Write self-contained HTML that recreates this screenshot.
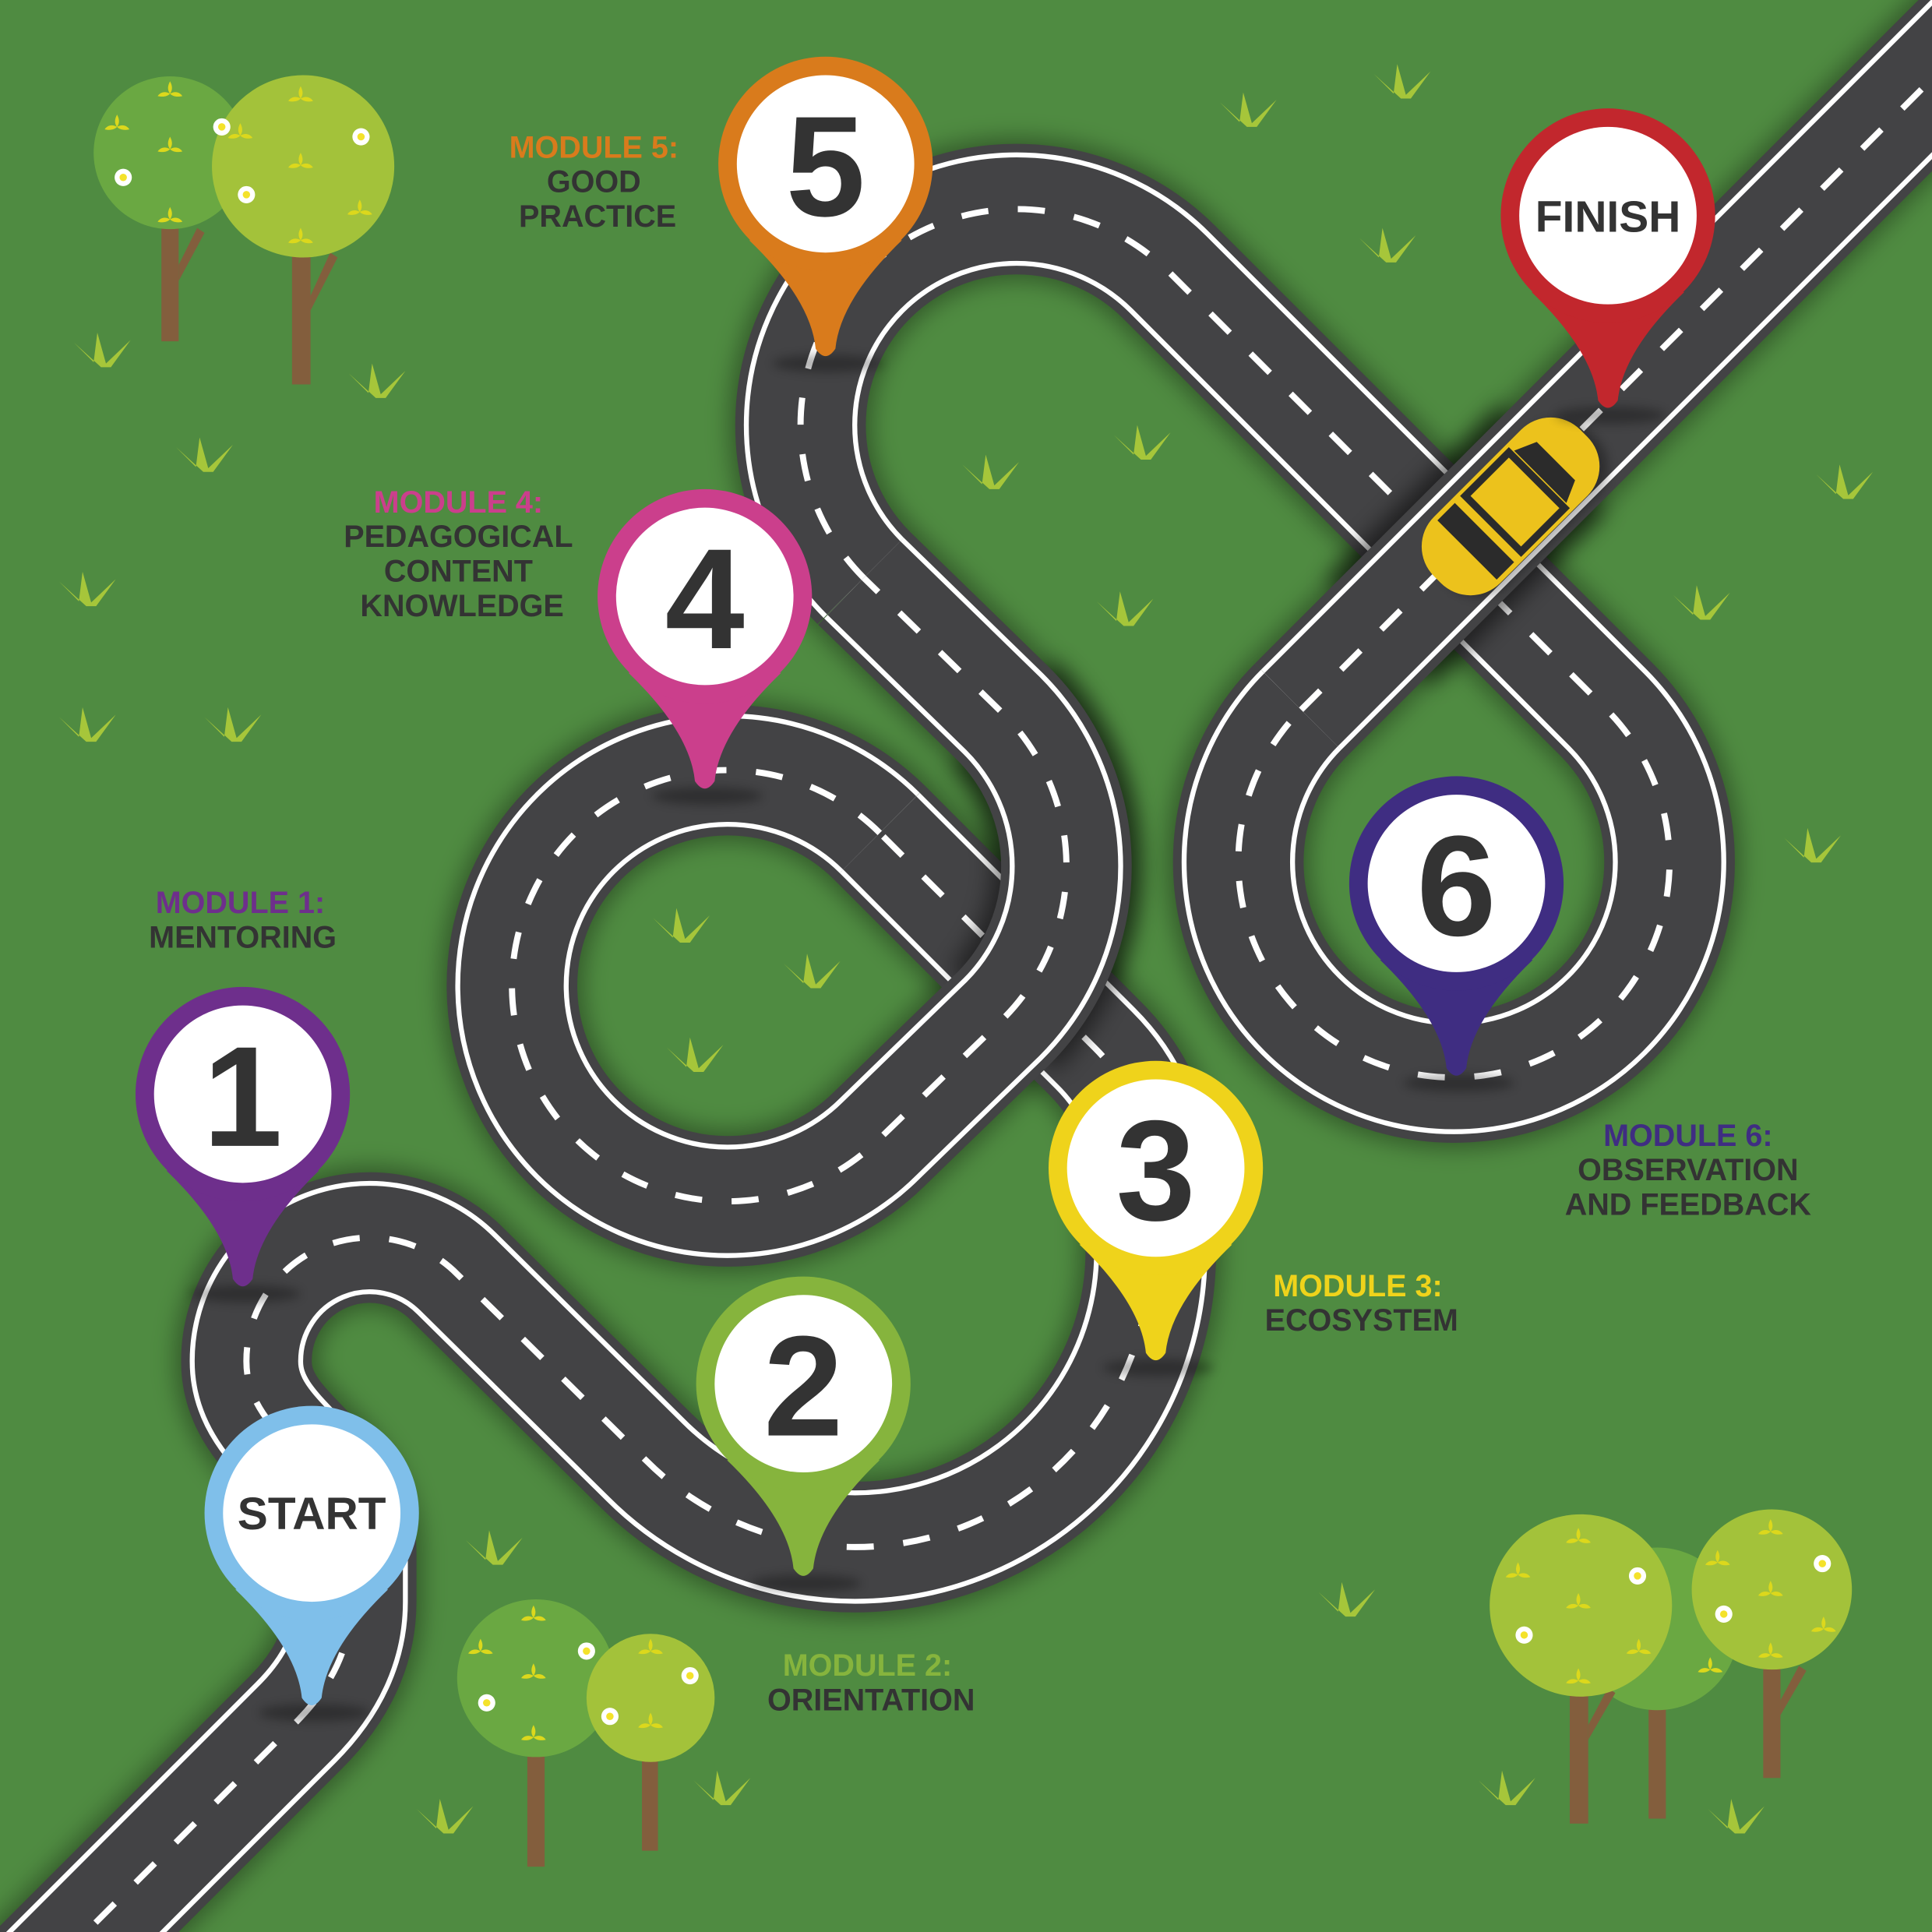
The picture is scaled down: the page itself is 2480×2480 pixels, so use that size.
<!DOCTYPE html>
<html><head><meta charset="utf-8"><style>
html,body{margin:0;padding:0;background:#4f8b41;width:2480px;height:2480px;overflow:hidden}
svg{display:block}
text{font-family:"Liberation Sans",sans-serif;font-weight:bold}
</style></head><body>
<svg width="2480" height="2480" viewBox="0 0 1568 1568" xmlns="http://www.w3.org/2000/svg">
<defs>
<filter id="bl" filterUnits="userSpaceOnUse" x="-200" y="-200" width="2000" height="2000"><feGaussianBlur stdDeviation="9"/></filter>
<filter id="bl2" filterUnits="userSpaceOnUse" x="-200" y="-200" width="2000" height="2000"><feGaussianBlur stdDeviation="4"/></filter>
<g id="tuft"><path d="M0,0 L-22,-20 L-6,-4 L-3,-28 L4,-3 L24,-22 L8,0 Z" fill="#a6c63a"/></g>
<g id="flw"><circle r="7" fill="#fff"/><circle r="3" fill="#f4e22b"/></g>
<g id="lf"><path d="M0,0 c-3,-4 -1,-8 0,-10 c1,2 3,6 0,10 M0,0 c-5,-3 -9,0 -10,2 c5,1 8,0 10,-2 M0,0 c5,-3 9,0 10,2 c-5,1 -8,0 -10,-2" fill="#dcd81c"/></g>
<path id="r1" d="M-20,1658 L240,1398 Q285,1353 285,1300 L285,1260 C285,1190 200,1170 200,1105 A100,100 0 0 1 371,1034 L524,1185 A240,240 0 0 0 934,1015 L934,960 Q934,896 889,851 L714,676"/>
<path id="r2" d="M714,676 A175,175 0 1 0 714,924 L814,827 A175,175 0 0 0 814,579 L701,469"/>
<path id="r3" d="M701,469 A175,175 0 0 1 949,221 L1304,576 A175,175 0 1 1 1056,576"/>
<path id="r4" d="M1056,576 L1650,-18"/>
</defs>
<rect width="1568" height="1568" fill="#4f8b41"/>

<g>
<use href="#tuft" x="82" y="298"/><use href="#tuft" x="305" y="323"/><use href="#tuft" x="165" y="383"/>
<use href="#tuft" x="70" y="492"/><use href="#tuft" x="70" y="602"/><use href="#tuft" x="188" y="602"/>
<use href="#tuft" x="1012" y="103"/><use href="#tuft" x="1137" y="80"/><use href="#tuft" x="1125" y="213"/>
<use href="#tuft" x="926" y="373"/><use href="#tuft" x="803" y="397"/><use href="#tuft" x="912" y="508"/>
<use href="#tuft" x="1380" y="503"/><use href="#tuft" x="1496" y="405"/><use href="#tuft" x="1470" y="700"/>
<use href="#tuft" x="552" y="765"/><use href="#tuft" x="658" y="802"/><use href="#tuft" x="563" y="870"/>
<use href="#tuft" x="400" y="1270"/><use href="#tuft" x="1092" y="1312"/><use href="#tuft" x="1222" y="1465"/>
<use href="#tuft" x="1408" y="1488"/><use href="#tuft" x="360" y="1488"/><use href="#tuft" x="585" y="1465"/>
</g>

<g>
<rect x="131" y="175" width="14" height="102" fill="#835e3d"/>
<path d="M145,215 L160,185 L166,189 L145,228Z" fill="#835e3d"/>
<circle cx="138" cy="124" r="62" fill="#6aa842"/>
<rect x="237" y="195" width="15" height="117" fill="#835e3d"/>
<path d="M252,240 L268,205 L274,209 L252,252Z" fill="#835e3d"/>
<circle cx="246" cy="135" r="74" fill="#a3c23a"/>
<use href="#flw" x="100" y="144"/><use href="#flw" x="293" y="111"/><use href="#flw" x="200" y="158"/><use href="#flw" x="180" y="103"/>
<use href="#lf" x="138" y="121"/><use href="#lf" x="138" y="76"/><use href="#lf" x="138" y="178"/><use href="#lf" x="95" y="103"/>
<use href="#lf" x="244" y="134"/><use href="#lf" x="244" y="80"/><use href="#lf" x="244" y="195"/><use href="#lf" x="195" y="110"/><use href="#lf" x="292" y="172"/>
</g>

<g fill="none">
<g stroke="#000" stroke-opacity=".35" stroke-width="116" filter="url(#bl)">
<use href="#r1"/><use href="#r2"/><use href="#r3"/><use href="#r4"/>
</g>
<g>
<use href="#r1" stroke="#434345" stroke-width="106"/>
<use href="#r1" stroke="#fff" stroke-width="92"/>
<use href="#r1" stroke="#434345" stroke-width="84"/>
<use href="#r1" stroke="#fff" stroke-width="5" stroke-dasharray="22,24"/>
</g>
<path d="M814,827 A175,175 0 0 0 814,579" stroke="#000" stroke-opacity=".5" stroke-width="120" filter="url(#bl)"/>
<g>
<use href="#r2" stroke="#434345" stroke-width="106"/>
<use href="#r2" stroke="#fff" stroke-width="92"/>
<use href="#r2" stroke="#434345" stroke-width="84"/>
<use href="#r2" stroke="#fff" stroke-width="5" stroke-dasharray="22,24"/>
</g>
<g>
<use href="#r3" stroke="#434345" stroke-width="106"/>
<use href="#r3" stroke="#fff" stroke-width="92"/>
<use href="#r3" stroke="#434345" stroke-width="84"/>
<use href="#r3" stroke="#fff" stroke-width="5" stroke-dasharray="22,24"/>
</g>
<path d="M1120,512 L1260,372" stroke="#000" stroke-opacity=".55" stroke-width="122" filter="url(#bl)"/>
<g>
<use href="#r4" stroke="#434345" stroke-width="106"/>
<use href="#r4" stroke="#fff" stroke-width="92"/>
<use href="#r4" stroke="#434345" stroke-width="84"/>
<use href="#r4" stroke="#fff" stroke-width="5" stroke-dasharray="22,24"/>
</g>
</g>

<g transform="translate(1226,411) rotate(-45)">
<rect x="-84" y="-38" width="168" height="76" rx="34" fill="#000" opacity=".3" filter="url(#bl2)" transform="translate(4,6)"/>
<rect x="-84" y="-38" width="168" height="76" rx="34" fill="#ecc21c"/>
<path d="M-50,-34 L-30,-34 L-30,34 L-50,34 Z" fill="#2b2b2b"/>
<path d="M-20,-32 L30,-32 L30,32 L-20,32 Z" fill="#ecc21c" stroke="#2b2b2b" stroke-width="6"/>
<path d="M34,-30 L52,-22 L52,22 L34,30 Z" fill="#2b2b2b"/>
</g>

<g>
<rect x="428" y="1410" width="14" height="105" fill="#835e3d"/>
<circle cx="435" cy="1362" r="64" fill="#6aa842"/>
<rect x="521" y="1420" width="13" height="82" fill="#835e3d"/>
<circle cx="528" cy="1378" r="52" fill="#a3c23a"/>
<use href="#flw" x="476" y="1340"/><use href="#flw" x="395" y="1382"/><use href="#flw" x="560" y="1360"/><use href="#flw" x="495" y="1393"/>
<use href="#lf" x="433" y="1360"/><use href="#lf" x="433" y="1313"/><use href="#lf" x="433" y="1410"/><use href="#lf" x="390" y="1340"/><use href="#lf" x="528" y="1340"/><use href="#lf" x="528" y="1400"/>

<rect x="1338" y="1370" width="14" height="106" fill="#835e3d"/>
<circle cx="1345" cy="1322" r="66" fill="#6aa842"/>
<rect x="1274" y="1360" width="15" height="120" fill="#835e3d"/>
<path d="M1289,1400 L1305,1370 L1311,1374 L1289,1412Z" fill="#835e3d"/>
<circle cx="1283" cy="1303" r="74" fill="#a3c23a"/>
<rect x="1431" y="1340" width="14" height="103" fill="#835e3d"/>
<path d="M1445,1380 L1460,1352 L1466,1356 L1445,1392Z" fill="#835e3d"/>
<circle cx="1438" cy="1290" r="65" fill="#a3c23a"/>
<use href="#flw" x="1329" y="1279"/><use href="#flw" x="1237" y="1327"/><use href="#flw" x="1399" y="1310"/><use href="#flw" x="1479" y="1269"/>
<use href="#lf" x="1281" y="1303"/><use href="#lf" x="1281" y="1250"/><use href="#lf" x="1281" y="1364"/><use href="#lf" x="1232" y="1278"/><use href="#lf" x="1330" y="1340"/>
<use href="#lf" x="1437" y="1293"/><use href="#lf" x="1437" y="1243"/><use href="#lf" x="1437" y="1343"/><use href="#lf" x="1394" y="1268"/><use href="#lf" x="1480" y="1322"/><use href="#lf" x="1388" y="1355"/>
</g>

<g>
<g transform="translate(253,1228)"><ellipse cx="2" cy="162" rx="45" ry="7" fill="#000" opacity=".3" filter="url(#bl2)"/><path d="M-62,62 Q-12,110 -8,150 Q0,162 8,150 Q12,110 62,62 Z" fill="#7fbfea"/><circle r="87" fill="#7fbfea"/><circle r="72" fill="#fff"/><text y="13" text-anchor="middle" font-size="37" fill="#333">START</text></g>
<g transform="translate(197,888)"><ellipse cx="2" cy="162" rx="45" ry="7" fill="#000" opacity=".3" filter="url(#bl2)"/><path d="M-62,62 Q-12,110 -8,150 Q0,162 8,150 Q12,110 62,62 Z" fill="#6e2f8c"/><circle r="87" fill="#6e2f8c"/><circle r="72" fill="#fff"/><text y="42" text-anchor="middle" font-size="116" fill="#333">1</text></g>
<g transform="translate(652,1123)"><ellipse cx="2" cy="162" rx="45" ry="7" fill="#000" opacity=".3" filter="url(#bl2)"/><path d="M-62,62 Q-12,110 -8,150 Q0,162 8,150 Q12,110 62,62 Z" fill="#86b43d"/><circle r="87" fill="#86b43d"/><circle r="72" fill="#fff"/><text y="42" text-anchor="middle" font-size="116" fill="#333">2</text></g>
<g transform="translate(938,948)"><ellipse cx="2" cy="162" rx="45" ry="7" fill="#000" opacity=".3" filter="url(#bl2)"/><path d="M-62,62 Q-12,110 -8,150 Q0,162 8,150 Q12,110 62,62 Z" fill="#efd31b"/><circle r="87" fill="#efd31b"/><circle r="72" fill="#fff"/><text y="42" text-anchor="middle" font-size="116" fill="#333">3</text></g>
<g transform="translate(572,484)"><ellipse cx="2" cy="162" rx="45" ry="7" fill="#000" opacity=".3" filter="url(#bl2)"/><path d="M-62,62 Q-12,110 -8,150 Q0,162 8,150 Q12,110 62,62 Z" fill="#cb3f8c"/><circle r="87" fill="#cb3f8c"/><circle r="72" fill="#fff"/><text y="42" text-anchor="middle" font-size="116" fill="#333">4</text></g>
<g transform="translate(670,133)"><ellipse cx="2" cy="162" rx="45" ry="7" fill="#000" opacity=".3" filter="url(#bl2)"/><path d="M-62,62 Q-12,110 -8,150 Q0,162 8,150 Q12,110 62,62 Z" fill="#d97b1c"/><circle r="87" fill="#d97b1c"/><circle r="72" fill="#fff"/><text y="42" text-anchor="middle" font-size="116" fill="#333">5</text></g>
<g transform="translate(1182,717)"><ellipse cx="2" cy="162" rx="45" ry="7" fill="#000" opacity=".3" filter="url(#bl2)"/><path d="M-62,62 Q-12,110 -8,150 Q0,162 8,150 Q12,110 62,62 Z" fill="#3f2d82"/><circle r="87" fill="#3f2d82"/><circle r="72" fill="#fff"/><text y="42" text-anchor="middle" font-size="116" fill="#333">6</text></g>
<g transform="translate(1305,175)"><ellipse cx="2" cy="162" rx="45" ry="7" fill="#000" opacity=".3" filter="url(#bl2)"/><path d="M-62,62 Q-12,110 -8,150 Q0,162 8,150 Q12,110 62,62 Z" fill="#c2272d"/><circle r="87" fill="#c2272d"/><circle r="72" fill="#fff"/><text y="13" text-anchor="middle" font-size="36" fill="#333">FINISH</text></g>
</g>

<g font-size="25" text-anchor="middle">
<text x="482" y="128" fill="#d97b1c">MODULE 5:</text>
<text x="482" y="156" fill="#333">GOOD</text>
<text x="485" y="184" fill="#333">PRACTICE</text>
<text x="372" y="416" fill="#cb3f8c">MODULE 4:</text>
<text x="372" y="444" fill="#333">PEDAGOGICAL</text>
<text x="372" y="472" fill="#333">CONTENT</text>
<text x="375" y="500" fill="#333">KNOWLEDGE</text>
<text x="195" y="741" fill="#6e2f8c">MODULE 1:</text>
<text x="197" y="769" fill="#333">MENTORING</text>
<text x="1370" y="930" fill="#3f2d82">MODULE 6:</text>
<text x="1370" y="958" fill="#333">OBSERVATION</text>
<text x="1370" y="986" fill="#333">AND FEEDBACK</text>
<text x="1102" y="1052" fill="#efd31b">MODULE 3:</text>
<text x="1105" y="1080" fill="#333">ECOSYSTEM</text>
<text x="704" y="1360" fill="#86b43d">MODULE 2:</text>
<text x="707" y="1388" fill="#333">ORIENTATION</text>
</g>
</svg>
</body></html>
